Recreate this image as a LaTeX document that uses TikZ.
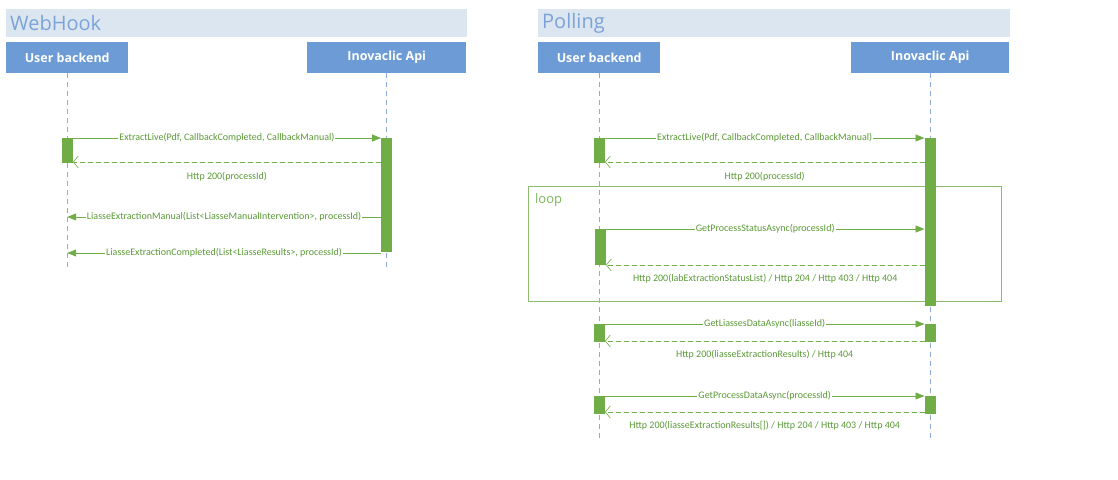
\documentclass[tikz,border=0pt]{standalone}
\usepackage{fontspec}
\setmainfont{Carlito}
\newfontfamily\headfont{Open Sans}
\usetikzlibrary{arrows.meta}
\definecolor{grn}{HTML}{70AD47}
\definecolor{grntxt}{HTML}{5A9A36}
\definecolor{hdrblue}{HTML}{6C9BD6}
\definecolor{bandfill}{HTML}{DCE6F0}
\definecolor{bandtxt}{HTML}{7BA3D8}
\definecolor{lifeblue}{HTML}{8EAADC}
\begin{document}
\begin{tikzpicture}[x=1pt,y=-1pt,
  titleband/.style={fill=bandfill, anchor=north west, text width=453pt, inner xsep=4pt, inner ysep=0pt, minimum height=28pt, align=left, text=bandtxt, font=\headfont\fontsize{20}{22}\selectfont},
  hdrbox/.style={fill=hdrblue, anchor=north west, minimum height=31pt, inner sep=0pt, text=white, font=\headfont\fontsize{12.5}{14}\selectfont\bfseries},
  lifeline/.style={draw=lifeblue, dash pattern=on 5pt off 4pt, line width=0.7pt},
  act/.style={fill=grn, anchor=north, minimum width=11pt, inner sep=0pt},
  msg/.style={draw=grn, line width=0.8pt, -{Triangle[length=9pt,width=7pt]}},
  ret/.style={draw=grn, line width=0.8pt, dash pattern=on 5pt off 3pt, -{Straight Barb[length=5pt,width=12pt,line width=0.6pt]}},
  lbl/.style={fill=white, inner xsep=1pt, inner ysep=1pt, text=grntxt, font=\fontsize{10}{12}\selectfont},
  rlbl/.style={text=grntxt, inner sep=0pt, font=\fontsize{10}{12}\selectfont},
  loopbox/.style={draw=grn!80, line width=0.7pt, anchor=north west, inner sep=0pt}
]
\useasboundingbox (0,0) rectangle (1118,479);

% ---------------- WebHook ----------------
\node[titleband] (wbt) at (6,9) {WebHook};
\node[hdrbox, minimum width=122pt] (wu) at (6,42) {User backend};
\node[hdrbox, minimum width=159pt] (wa) at (307,42) {Inovaclic Api};
\coordinate (wend) at (0,268);
\draw[lifeline] (wu.south) -- (wu.south |- wend);
\draw[lifeline] (wa.south) -- (wa.south |- wend);

\node[act, minimum height=25pt] (wua1) at (wu.south |- 0,138) {};
\node[act, minimum height=114pt] (waa1) at (wa.south |- 0,138) {};

\draw[msg] (wua1.north east) -- node[lbl]{ExtractLive(Pdf, CallbackCompleted, CallbackManual)} (waa1.north west);
\draw[ret] (waa1.west |- 0,162) -- node[rlbl, yshift=-15pt]{Http 200(processId)} (wua1.east |- 0,162);
\draw[msg] (waa1.west |- 0,217) -- node[lbl]{LiasseExtractionManual(List<LiasseManualIntervention>, processId)} (wu.south |- 0,217);
\draw[msg] (waa1.west |- 0,253) -- node[lbl]{LiasseExtractionCompleted(List<LiasseResults>, processId)} (wu.south |- 0,253);

% ---------------- Polling ----------------
\node[titleband, text width=464pt] (pt) at (538,9) {Polling};
\node[hdrbox, minimum width=122pt] (pu) at (538,42) {User backend};
\node[hdrbox, minimum width=158pt] (pa) at (851,42) {Inovaclic Api};
\coordinate (pend) at (0,442);
\draw[lifeline] (pu.south) -- (pu.south |- pend);
\draw[lifeline] (pa.south) -- (pa.south |- pend);

\node[loopbox, minimum width=473pt, minimum height=115pt] (loop) at (528,186) {};
\node[anchor=north west, text=grn!90, inner sep=0pt, font=\headfont\fontsize{13}{15}\selectfont] (looplbl) at ([xshift=7pt,yshift=-7pt]loop.north west) {loop};

\node[act, minimum height=25pt] (pua1) at (pu.south |- 0,138) {};
\node[act, minimum height=168pt] (paa1) at (pa.south |- 0,138) {};
\draw[msg] (pua1.north east) -- node[lbl]{ExtractLive(Pdf, CallbackCompleted, CallbackManual)} (paa1.north west);
\draw[ret] (paa1.west |- 0,162) -- node[rlbl, yshift=-15pt]{Http 200(processId)} (pua1.east |- 0,162);

\node[act, minimum height=36pt, xshift=1pt] (pua2) at (pu.south |- 0,229) {};
\draw[msg] (pua2.north east) -- node[lbl]{GetProcessStatusAsync(processId)} (paa1.west |- 0,229);
\draw[ret] (paa1.west |- 0,265) -- node[rlbl, yshift=-14pt]{Http 200(labExtractionStatusList) / Http 204 / Http 403 / Http 404} (pua2.east |- 0,265);

\node[act, minimum height=18pt] (pua3) at (pu.south |- 0,324) {};
\node[act, minimum height=18pt] (paa3) at (pa.south |- 0,324) {};
\draw[msg] (pua3.north east) -- node[lbl]{GetLiassesDataAsync(liasseId)} (paa3.north west);
\draw[ret] (paa3.west |- 0,341) -- node[rlbl, yshift=-14pt]{Http 200(liasseExtractionResults) / Http 404} (pua3.east |- 0,341);

\node[act, minimum height=18pt] (pua4) at (pu.south |- 0,396) {};
\node[act, minimum height=18pt] (paa4) at (pa.south |- 0,396) {};
\draw[msg] (pua4.north east) -- node[lbl]{GetProcessDataAsync(processId)} (paa4.north west);
\draw[ret] (paa4.west |- 0,412) -- node[rlbl, yshift=-14pt]{Http 200(liasseExtractionResults[]) / Http 204 / Http 403 / Http 404} (pua4.east |- 0,412);
\end{tikzpicture}
\end{document}
